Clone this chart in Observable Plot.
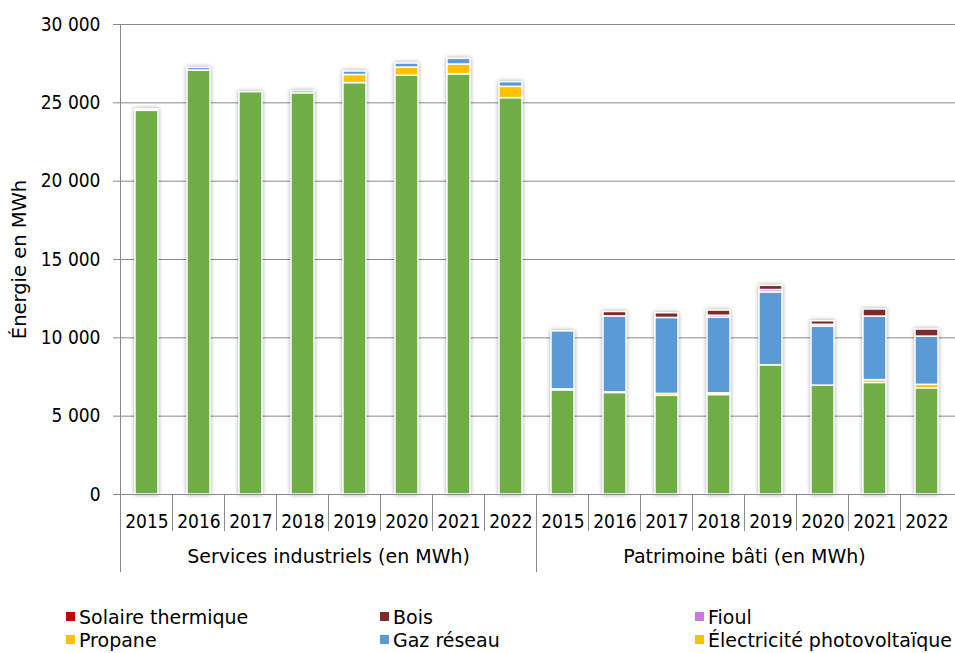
<!DOCTYPE html>
<html>
<head>
<meta charset="utf-8">
<script src="https://cdn.jsdelivr.net/npm/d3@7"></script>
<script src="https://cdn.jsdelivr.net/npm/@observablehq/plot@0.6"></script>
<style>
  body { margin: 0; background: #fff; }
  #wrap { position: relative; width: 955px; height: 653px; }
  #legend { position: absolute; left: 0; top: 605px; width: 955px;
    font-family: "DejaVu Sans", sans-serif; font-size: 19px; color: #000; }
  .lrow { display: flex; height: 23px; align-items: center; position: relative; }
  .litem { display: flex; align-items: center; white-space: nowrap; position: absolute; }
  .sw { width: 9px; height: 9px; margin-right: 4px; display: inline-block; }
</style>
</head>
<body>
<div id="wrap"><div id="chart"></div><div id="legend"></div></div>
<script>
// ---- Data ----
const groups = ["Services industriels (en MWh)", "Patrimoine bâti (en MWh)"];
const years = ["2015", "2016", "2017", "2018", "2019", "2020", "2021", "2022"];

// stacking order, bottom to top
const seriesOrder = ["Électricité", "Électricité photovoltaïque", "Gaz réseau", "Propane", "Fioul", "Bois", "Solaire thermique"];
const seriesColors = ["#70AD47", "#FFC000", "#5B9BD5", "#FFC000", "#CC77DD", "#7B2C2A", "#C00000"];

// values: 8 years of Services industriels, then 8 years of Patrimoine bâti
const electricite      = [24490, 27060, 25680, 25610, 26260, 26730, 26820, 25300,  6650, 6480, 6300, 6350, 8250, 6950, 7120, 6780];
const photovoltaique   = [    0,     0,     0,     0,   520,   520,   630,   720,    60,   40,  120,  110,    0,    0,  180,  220];
const gazReseau        = [   90,   170,     0,   130,   220,   260,   360,   300,  3700, 4850, 4850, 4830, 4650, 3770, 4060, 3080];
const propane          = [    0,     0,     0,     0,     0,     0,     0,     0,     0,    0,    0,    0,    0,    0,    0,    0];
const fioul            = [    0,     0,     0,     0,     0,     0,     0,     0,     0,    0,    0,  120,  150,  110,    0,    0];
const bois             = [    0,     0,     0,     0,     0,     0,     0,     0,     0,  280,  300,  330,  270,  230,  450,  450];
const solaireThermique = [    0,     0,     0,     0,     0,     0,     0,     0,     0,    0,    0,    0,    0,    0,    0,    0];

const yTicks = [0, 5000, 10000, 15000, 20000, 25000, 30000];
const legendItems = ["Solaire thermique", "Bois", "Fioul", "Propane", "Gaz réseau", "Électricité photovoltaïque"];

// ---- Build table ----
const seriesValues = [electricite, photovoltaique, gazReseau, propane, fioul, bois, solaireThermique];
const keys = [];
groups.forEach(g => years.forEach(y => keys.push(g + "|" + y)));
const rows = [];
seriesOrder.forEach((s, si) => {
  keys.forEach((k, ki) => {
    const v = seriesValues[si][ki];
    if (v > 0) rows.push({key: k, series: s, value: v});
  });
});

const fmt = d => d3.format(",")(d).replace(/,/g, " ");
const gridColor = "#898989";
const digitFont = "'DejaVu Sans Condensed', 'DejaVu Sans', sans-serif";
const textFont = "'DejaVu Sans', sans-serif";

const chart = Plot.plot({
  width: 955, height: 580,
  marginLeft: 118, marginRight: 0, marginTop: 24, marginBottom: 86,
  style: {fontFamily: digitFont, fontSize: "19px", color: "#000", background: "#fff"},
  x: {domain: keys, paddingInner: 0.56, paddingOuter: 0.28, axis: null},
  y: {domain: [0, 30000], axis: null},
  color: {domain: seriesOrder, range: seriesColors},
  marks: [
    Plot.gridY(yTicks, {stroke: gridColor, strokeOpacity: 1}),
    Plot.axisY(yTicks, {tickSize: 5, tickPadding: 13, tickFormat: fmt, stroke: gridColor, label: null, fontSize: 19}),
    Plot.barY(rows, {x: "key", y: "value", fill: "series", order: seriesOrder, stroke: "white", strokeWidth: 1.5}),
    Plot.ruleY([0], {stroke: gridColor}),
    Plot.axisX(keys, {tickSize: 0, tickPadding: 20, tickFormat: k => k.split("|")[1], label: null, fontSize: 19}),
    Plot.text(["Énergie en MWh"], {frameAnchor: "left", textAnchor: "middle", rotate: -90, dx: -99, dy: 0, fontSize: 19.5, fontFamily: textFont, fill: "#000"})
  ]
});
document.getElementById("chart").appendChild(chart);

// bar shadow
d3.select(chart).selectAll("g[aria-label='bar']").style("filter", "drop-shadow(0px 0px 2px rgba(0,0,0,0.35))");

// category dividers and group labels, positioned with the plot's own scales
const xs = chart.scale("x"), ys = chart.scale("y");
const step = xs.step, bw = xs.bandwidth;
const y0 = ys.apply(0), yTop = ys.apply(30000);
const svg = d3.select(chart);
const g = svg.append("g").attr("stroke", gridColor).attr("stroke-width", 1);
keys.forEach((k, i) => {
  const xb = xs.apply(k) - (step - bw) / 2;
  const isGroupEdge = i % years.length === 0;
  g.append("line").attr("x1", xb).attr("x2", xb)
    .attr("y1", i === 0 ? yTop : y0).attr("y2", isGroupEdge ? y0 + 78 : y0 + 37);
});
groups.forEach((grp, gi) => {
  const first = keys[gi * years.length], last = keys[gi * years.length + years.length - 1];
  const cx = (xs.apply(first) + xs.apply(last) + bw) / 2;
  svg.append("text").attr("x", cx).attr("y", y0 + 69).attr("text-anchor", "middle")
    .attr("font-family", textFont).attr("font-size", 19).attr("fill", "#000").text(grp);
});

// legend
const legend = d3.select("#legend");
const colX = [66, 380, 695];
[legendItems.slice(0, 3), legendItems.slice(3, 6)].forEach(rowItems => {
  const r = legend.append("div").attr("class", "lrow");
  rowItems.forEach((name, i) => {
    const it = r.append("div").attr("class", "litem").style("left", colX[i] + "px");
    it.append("span").attr("class", "sw").style("background", seriesColors[seriesOrder.indexOf(name)]);
    it.append("span").text(name);
  });
});
</script>
</body>
</html>
